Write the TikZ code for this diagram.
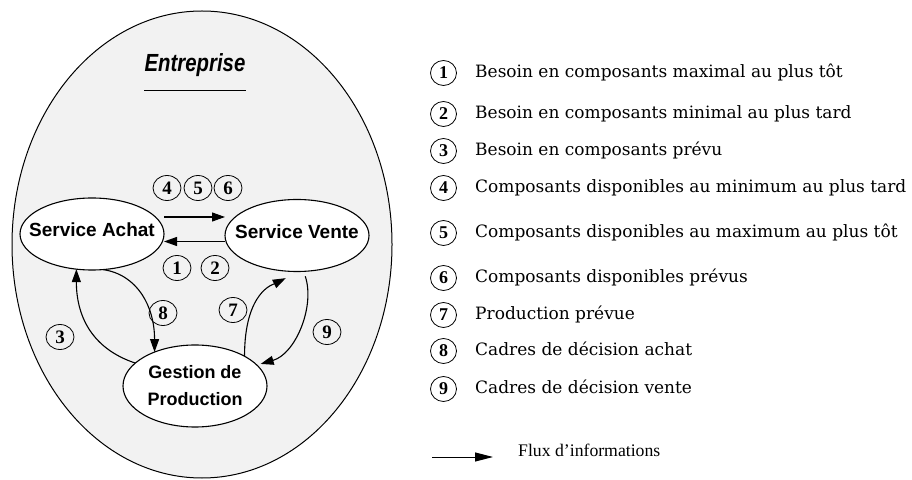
\documentclass[tikz,border=0pt]{standalone}
\usepackage{fontspec}
\setmainfont{DejaVu Serif}
\newfontfamily\helv{Liberation Sans}
\newfontfamily\tms{Liberation Serif}
\usetikzlibrary{shapes.geometric,arrows.meta}
\definecolor{bgray}{RGB}{242,242,242}
\tikzset{
  dept/.style={ellipse, draw, line width=1.1pt, fill=white, inner xsep=-22pt, inner ysep=0pt, outer sep=0pt,
    minimum width=144pt, minimum height=72pt, align=center,
    font=\helv\bfseries\fontsize{19}{22}\selectfont},
  num/.style={ellipse, draw, line width=0.8pt, inner sep=0pt, outer sep=0pt,
    minimum width=28pt, minimum height=25pt,
    font=\tms\bfseries\fontsize{19}{19}\selectfont},
  flow/.style={line width=1.1pt, -{Triangle[length=13pt,width=9pt]}},
  legtext/.style={anchor=base west, inner sep=0pt, font=\fontsize{17}{20}\selectfont},
}
\begin{document}
\begin{tikzpicture}[x=1pt,y=1pt]
\useasboundingbox (0,0) rectangle (912,479);
% enterprise
\node[ellipse, draw, fill=bgray, line width=1pt, minimum width=380pt, minimum height=467pt,
  inner sep=0pt, outer sep=0pt] (ent) at (202,234.5) {};
\node[font=\helv\bfseries\itshape\fontsize{21}{24}\selectfont, inner sep=0pt,
  xscale=0.97, yscale=1.18, transform shape] (title) at (195,414) {Entreprise};
\draw[line width=0.9pt] ([yshift=-14pt]title.south west) -- ([yshift=-14pt]title.south east);
% departments
\node[dept, text depth=8pt] (achat) at (92,245) {Service Achat};
\node[dept, text depth=8pt] (vente) at (297,243.5) {Service Vente};
\node[dept, minimum height=82pt, font=\helv\bfseries\fontsize{18}{27}\selectfont] (gp) at (195,93) {Gestion de\\Production};
% numbers
\node[num] (n4) at (167,291) {4};
\node[num] (n5) at (198,291) {5};
\node[num] (n6) at (228,291) {6};
\node[num] (n1) at (177,211) {1};
\node[num] (n2) at (215,211) {2};
\node[num] (n8) at (163,166) {8};
\node[num] (n7) at (233,169) {7};
\node[num] (n3) at (60,142) {3};
\node[num] (n9) at (327,147) {9};
% flows
\coordinate (a1) at ([yshift=17pt]achat.east);
\draw[flow] (a1) -- (a1 -| vente.west);
\coordinate (v1) at ([yshift=-6pt]vente.west);
\draw[flow] (v1) -- (v1 -| achat.east);
\draw[flow] (gp.159) .. controls +(-45,15) and +(0,-45) .. (achat.246);
\draw[flow] (achat.287) .. controls +(35,-5) and +(0,45) .. (gp.140);
\draw[flow] (gp.31) .. controls +(0,65) and +(-12,-6) .. ([shift={(-1,-7)}]vente.254);
\draw[flow] ([yshift=-5pt]vente.283) .. controls +(10,-30) and +(35,10) .. ([xshift=5pt]gp.20);
% legend
\foreach \k/\yy/\txt in {
  1/406/{Besoin en composants maximal au plus tôt},
  2/365/{Besoin en composants minimal au plus tard},
  3/328/{Besoin en composants prévu},
  4/291/{Composants disponibles au minimum au plus tard},
  5/246/{Composants disponibles au maximum au plus tôt},
  6/201/{Composants disponibles prévus},
  7/164/{Production prévue},
  8/128/{Cadres de décision achat},
  9/90/{Cadres de décision vente}} {
  \node[num, minimum width=26pt, minimum height=25pt, font=\tms\bfseries\fontsize{18}{18}\selectfont] (l\k) at (443.5,\yy) {\k};
  \node[legtext] (t\k) at (475,\yy-5) {\txt};
}
\coordinate (fa) at (432,22);
\coordinate (fb) at (493,22);
\draw[line width=1pt, -{Triangle[length=18pt,width=9pt]}] (fa) -- (fb);
\node[anchor=base west, inner sep=0pt, font=\tms\fontsize{17.7}{20}\selectfont] (flux) at (518,23) {Flux d’informations};
\end{tikzpicture}
\end{document}
